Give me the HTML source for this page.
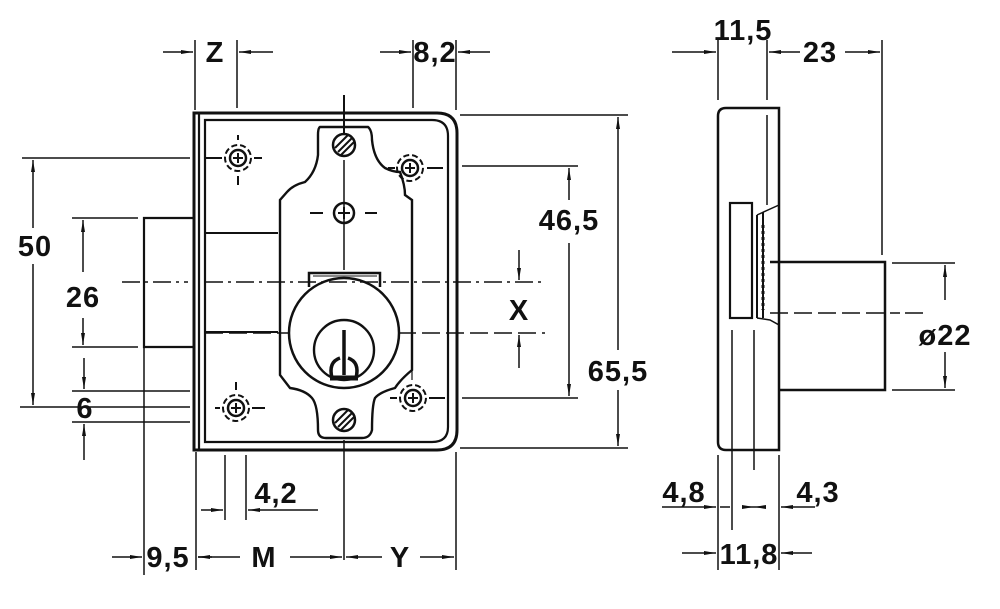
<!DOCTYPE html>
<html><head><meta charset="utf-8"><style>
html,body{margin:0;padding:0;background:#fff;width:1000px;height:609px;overflow:hidden}
svg text{font-family:"Liberation Sans",sans-serif;font-weight:bold;font-size:29px;fill:#111;text-anchor:middle;letter-spacing:1px}
</style></head><body>
<svg width="1000" height="609" viewBox="0 0 1000 609" xmlns="http://www.w3.org/2000/svg">
<defs>
<marker id="a" viewBox="0 0 12 6" refX="12" refY="3" markerWidth="12" markerHeight="6" markerUnits="userSpaceOnUse" orient="auto-start-reverse"><path d="M0,1 L12,3 L0,5 Z" fill="#111"/></marker>
</defs>
<g stroke="#111" fill="none" stroke-width="1.5">
<path d="M194,113 H437 Q457,113 457,133 V430 Q457,450 437,450 H194 Z" stroke-width="3"/>
<path d="M205,120 H432 Q448,120 448,136 V427 Q448,442 432,442 H205 Z" stroke-width="2.2"/>
<line x1="199" y1="114" x2="199" y2="449" stroke-width="2.2"/>
<path d="M194,218 H144 V347 H194" stroke-width="2.2"/>
<line x1="205" y1="233" x2="278" y2="233" stroke-width="2"/>
<line x1="205" y1="332" x2="278" y2="332" stroke-width="2"/>
<path d="M320,127 H368 Q372,130 372,140 Q374,160 385,168 Q393,172 400,172 Q405,185 405,195 L412,200 V370 Q400,380 395,388 Q380,392 375,398 Q372,405 372,430 Q370,438 362,438 H326 Q318,438 318,430 Q318,405 312,398 Q305,390 290,388 L280,375 V200 L287,192 Q293,185 305,182 Q316,172 318,155 V135 Q318,128 320,127 Z" stroke-width="2.4"/>
<line x1="344" y1="95" x2="344" y2="135" stroke-width="2"/>
<line x1="344" y1="160" x2="344" y2="270"/>
<line x1="344" y1="440" x2="344" y2="560"/>
<circle cx="344" cy="145" r="11" stroke-width="2.5"/>
<path d="M338,152 L352,138 M335,148 L348,135 M341,155 L354,142" stroke-width="2"/>
<circle cx="344" cy="420" r="11" stroke-width="2.5"/>
<path d="M338,427 L352,413 M335,423 L348,410 M341,430 L354,417" stroke-width="2"/>
<circle cx="344" cy="213" r="10" stroke-width="2.5"/>
<path d="M338,213 H350 M344,207 V219 M310,213 H323 M365,213 H377" stroke-width="2"/>
<path d="M309,287 V273 H380 V287" stroke-width="2.5"/>
<path d="M313,276 H377" stroke-width="1"/>
<circle cx="344" cy="333" r="55" stroke-width="2.5"/>
<circle cx="344" cy="350" r="30" stroke-width="2.4"/>
<path d="M344,330 V375 M332,378 Q328,362 340,358 M356,378 Q360,362 348,358" stroke-width="3.5"/>
<path d="M330,378 H358" stroke-width="5"/>
<g stroke-width="2">
<circle cx="238" cy="158" r="8" stroke-width="2.5"/><circle cx="238" cy="158" r="13" stroke-dasharray="6 3"/>
<path d="M233,158 H243 M238,153 V163 M205,158 H222 M254,158 H262 M238,135 V140 M238,176 V185"/>
<circle cx="410" cy="168" r="8" stroke-width="2.5"/><circle cx="410" cy="168" r="13" stroke-dasharray="6 3"/>
<path d="M405,168 H415 M410,163 V173 M388,168 H395 M427,168 H443"/>
<circle cx="236" cy="408" r="8" stroke-width="2.5"/><circle cx="236" cy="408" r="13" stroke-dasharray="6 3"/>
<path d="M231,408 H241 M236,403 V413 M215,408 H220 M252,408 H265 M236,382 V390"/>
<circle cx="413" cy="398" r="8" stroke-width="2.5"/><circle cx="413" cy="398" r="13" stroke-dasharray="6 3"/>
<path d="M408,398 H418 M413,393 V403 M390,398 H397 M429,398 H445"/>
</g>
<path d="M122,282 H188 M205,282 H545" stroke-dasharray="18 5 3 5"/>
<path d="M205,333 H290 M398,333 H545" stroke-dasharray="18 6"/>
<line x1="412" y1="200" x2="412" y2="380" stroke-width="1.2"/>
<line x1="22" y1="158" x2="190" y2="158"/>
<line x1="20" y1="407" x2="190" y2="407"/>
<line x1="72" y1="218" x2="138" y2="218"/>
<line x1="72" y1="347" x2="138" y2="347"/>
<line x1="72" y1="391" x2="190" y2="391"/>
<line x1="72" y1="422" x2="190" y2="422"/>
<line x1="144" y1="347" x2="144" y2="575"/>
<line x1="33" y1="160" x2="33" y2="228" marker-start="url(#a)"/>
<line x1="33" y1="264" x2="33" y2="405" marker-end="url(#a)"/>
<line x1="83" y1="220" x2="83" y2="272" marker-start="url(#a)"/>
<line x1="83" y1="318" x2="83" y2="345" marker-end="url(#a)"/>
<line x1="84" y1="358" x2="84" y2="389" marker-end="url(#a)"/>
<line x1="84" y1="460" x2="84" y2="424" marker-end="url(#a)"/>
<line x1="460" y1="115" x2="628" y2="115"/>
<line x1="460" y1="448" x2="628" y2="448"/>
<line x1="462" y1="166" x2="578" y2="166"/>
<line x1="462" y1="398" x2="578" y2="398"/>
<line x1="618" y1="117" x2="618" y2="350" marker-start="url(#a)"/>
<line x1="618" y1="390" x2="618" y2="446" marker-end="url(#a)"/>
<line x1="569" y1="168" x2="569" y2="200" marker-start="url(#a)"/>
<line x1="569" y1="243" x2="569" y2="396" marker-end="url(#a)"/>
<line x1="519" y1="250" x2="519" y2="280" marker-end="url(#a)"/>
<line x1="519" y1="368" x2="519" y2="335" marker-end="url(#a)"/>
<line x1="195" y1="40" x2="195" y2="110"/>
<line x1="237" y1="40" x2="237" y2="108"/>
<line x1="413" y1="40" x2="413" y2="108"/>
<line x1="456" y1="40" x2="456" y2="110"/>
<line x1="163" y1="52" x2="193" y2="52" marker-end="url(#a)"/>
<line x1="273" y1="52" x2="239" y2="52" marker-end="url(#a)"/>
<line x1="380" y1="52" x2="411" y2="52" marker-end="url(#a)"/>
<line x1="490" y1="52" x2="458" y2="52" marker-end="url(#a)"/>
<line x1="196" y1="452" x2="196" y2="570"/>
<line x1="225" y1="455" x2="225" y2="520"/>
<line x1="246" y1="455" x2="246" y2="520"/>
<line x1="456" y1="452" x2="456" y2="570"/>
<line x1="201" y1="510" x2="223" y2="510" marker-end="url(#a)"/>
<line x1="318" y1="510" x2="248" y2="510" marker-end="url(#a)"/>
<line x1="112" y1="557" x2="142" y2="557" marker-end="url(#a)"/>
<line x1="212" y1="557" x2="198" y2="557" marker-end="url(#a)"/>
<line x1="240" y1="557" x2="198" y2="557"/>
<line x1="290" y1="557" x2="342" y2="557" marker-end="url(#a)"/>
<line x1="382" y1="557" x2="346" y2="557" marker-end="url(#a)"/>
<line x1="420" y1="557" x2="454" y2="557" marker-end="url(#a)"/>
<path d="M726,108 H779 V450 H726 Q718,450 718,442 V116 Q718,108 726,108 Z" stroke-width="2.5"/>
<line x1="767" y1="115" x2="767" y2="205" stroke-width="1.5"/>
<rect x="730" y="203" width="22" height="115" stroke-width="2.2"/>
<path d="M757,215 L779,205 M757,318 L770,320 L779,325 V450" stroke-width="1.5"/>
<path d="M757,215 V318 M763,212 V318" stroke-width="2"/>
<path d="M763,225 V310" stroke-width="3" stroke-dasharray="3 3"/>
<path d="M770,262 H885 V390 H779" stroke-width="2.5"/>
<path d="M770,313 H900 M905,313 H925" stroke-dasharray="18 6"/>
<line x1="732" y1="330" x2="732" y2="530"/>
<line x1="754" y1="330" x2="754" y2="470"/>
<line x1="718" y1="40" x2="718" y2="100"/>
<line x1="767" y1="40" x2="767" y2="100"/>
<line x1="882" y1="40" x2="882" y2="255"/>
<line x1="892" y1="263" x2="955" y2="263"/>
<line x1="892" y1="390" x2="955" y2="390"/>
<line x1="718" y1="455" x2="718" y2="570"/>
<line x1="779" y1="455" x2="779" y2="570"/>
<line x1="672" y1="52" x2="716" y2="52" marker-end="url(#a)"/>
<line x1="800" y1="52" x2="769" y2="52" marker-end="url(#a)"/>
<line x1="845" y1="52" x2="880" y2="52" marker-end="url(#a)"/>
<line x1="945" y1="300" x2="945" y2="265" marker-end="url(#a)"/>
<line x1="945" y1="352" x2="945" y2="388" marker-end="url(#a)"/>
<line x1="662" y1="507" x2="716" y2="507" marker-end="url(#a)"/>
<line x1="720" y1="507" x2="730" y2="507"/>
<line x1="745" y1="507" x2="754" y2="507" marker-end="url(#a)"/>
<line x1="765" y1="507" x2="754" y2="507" marker-end="url(#a)"/>
<line x1="815" y1="507" x2="781" y2="507" marker-end="url(#a)"/>
<line x1="682" y1="553" x2="716" y2="553" marker-end="url(#a)"/>
<line x1="812" y1="553" x2="781" y2="553" marker-end="url(#a)"/>
</g>
<g>
<text x="35" y="256">50</text>
<text x="83" y="307">26</text>
<text x="85" y="418">6</text>
<text x="215" y="62">Z</text>
<text x="435" y="62">8,2</text>
<text x="569" y="230">46,5</text>
<text x="519" y="320">X</text>
<text x="618" y="381">65,5</text>
<text x="276" y="503">4,2</text>
<text x="168" y="567">9,5</text>
<text x="264" y="567">M</text>
<text x="400" y="567">Y</text>
<text x="743" y="40">11,5</text>
<text x="820" y="62">23</text>
<text x="945" y="345">ø22</text>
<text x="684" y="502">4,8</text>
<text x="818" y="502">4,3</text>
<text x="749" y="564">11,8</text>
</g>
</svg>
</body></html>
